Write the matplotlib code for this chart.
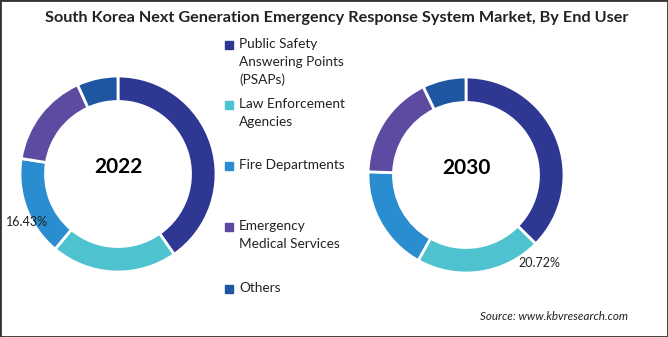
import matplotlib.pyplot as plt
from matplotlib.patches import Rectangle

segments = ["Public Safety\nAnswering Points\n(PSAPs)", "Law Enforcement\nAgencies",
            "Fire Departments", "Emergency\nMedical Services", "Others"]
share_2022 = [40.3, 20.8, 16.43, 15.7, 6.77]
share_2030 = [37.4, 20.72, 17.4, 17.3, 7.18]
colors = ["#2E3893", "#4EC3CF", "#2A8DD0", "#5D4BA2", "#1F56A1"]

W, H = 668, 337
plt.rcParams['font.family'] = ['Lato', 'DejaVu Sans']

fig = plt.figure(figsize=(W / 100, H / 100), dpi=100)
fig.patches.append(Rectangle((0, 0), 1, 1, transform=fig.transFigure, fill=False,
                             edgecolor="#333333", linewidth=2))

fig.text(337 / W, 1 - 18 / H, "South Korea Next Generation Emergency Response System Market, By End User",
         ha="center", va="center", fontsize=11.7, fontweight="bold", color="#222222")


def donut(cx, cy, r, values, year, label_idx, label_xy):
    ax = fig.add_axes([(cx - r) / W, (H - cy - r) / H, 2 * r / W, 2 * r / H])
    ax.pie(values, colors=colors, startangle=90, counterclock=False, radius=1,
           wedgeprops=dict(width=0.26, edgecolor="white", linewidth=2))
    ax.set_xlim(-1, 1)
    ax.set_ylim(-1, 1)
    ax.set_aspect("equal")
    ax.axis("off")
    ax.text(0, 0.07, year, ha="center", va="center", fontsize=15, fontweight="bold")
    fig.text(label_xy[0] / W, 1 - label_xy[1] / H, f"{values[label_idx]:.2f}%",
             ha="center", va="center", fontsize=9, color="#222222")


donut(118, 174, 98, share_2022, "2022", 2, (27, 222))
donut(466, 175, 98, share_2030, "2030", 1, (539, 263))

# legend in the middle
legend_y = [45, 105, 166, 227, 289]
for name, col, y in zip(segments, colors, legend_y):
    fig.patches.append(Rectangle((225 / W, 1 - (y + 4) / H), 8 / W, 8 / H,
                                 transform=fig.transFigure, color=col))
    fig.text(239 / W, 1 - (y - 7) / H, name, ha="left", va="top", fontsize=9.8,
             color="#222222", linespacing=1.55)

fig.text(628 / W, 1 - 317 / H, "Source: www.kbvresearch.com", ha="right", va="center",
         fontsize=8.4, style="italic", color="#222222")

fig.savefig("out.png", dpi=100)
